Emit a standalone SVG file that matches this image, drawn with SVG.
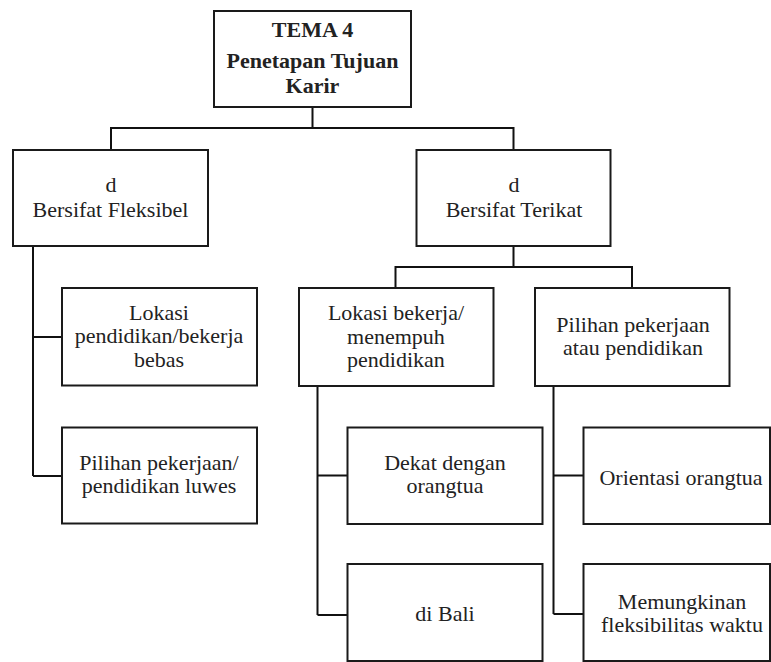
<svg xmlns="http://www.w3.org/2000/svg" width="771" height="662" viewBox="0 0 771 662" font-family="Liberation Serif, Times New Roman, DejaVu Serif, serif">
<style>
.box{fill:#ffffff;stroke:#1a1a1a;stroke-width:2}
.con{fill:none;stroke:#111111;stroke-width:2}
.t{font-size:22px;fill:#222222;text-anchor:middle}
.b{font-weight:bold}
</style>
<rect width="771" height="662" fill="#ffffff"/>
<g id="connectors">
<path class="con" d="M312.5,107 V128 M111,150 V128 H513.5 V150"/>
<path class="con" d="M33,246 V476 M33,337 H62 M33,476 H62"/>
<path class="con" d="M513.5,246 V267 M395.5,288 V267 H632 V288"/>
<path class="con" d="M317.5,386 V615 M317.5,475.5 H347.5 M317.5,615 H347.5"/>
<path class="con" d="M553.5,386 V614 M553.5,475.5 H583.5 M553.5,614 H583.5"/>
</g>
<g id="tema4" class="t">
<rect class="box" x="214" y="11" width="197" height="96"/>
<text class="b" x="312.5" y="37" font-family="Liberation Serif">TEMA 4</text>
<text class="b" x="312.5" y="68" font-family="Liberation Serif">Penetapan Tujuan</text>
<text class="b" x="312.5" y="93" font-family="Liberation Serif">Karir</text>
</g>
<g id="fleksibel" class="t">
<rect class="box" x="13" y="150" width="195" height="96"/>
<text x="111" y="192">d</text>
<text x="110.5" y="217">Bersifat Fleksibel</text>
</g>
<g id="terikat" class="t">
<rect class="box" x="416.5" y="150" width="194" height="96"/>
<text x="514" y="192">d</text>
<text x="514" y="217">Bersifat Terikat</text>
</g>
<g id="lokasi-bebas" class="t">
<rect class="box" x="62" y="288" width="195" height="97.5"/>
<text x="159" y="320">Lokasi</text>
<text x="159" y="343">pendidikan/bekerja</text>
<text x="159" y="366.5">bebas</text>
</g>
<g id="pilihan-luwes" class="t">
<rect class="box" x="62" y="427.5" width="195" height="96"/>
<text x="159" y="470">Pilihan pekerjaan/</text>
<text x="159" y="493">pendidikan luwes</text>
</g>
<g id="lokasi-bekerja" class="t">
<rect class="box" x="299" y="288" width="194.5" height="98"/>
<text x="396" y="320">Lokasi bekerja/</text>
<text x="396" y="343.5">menempuh</text>
<text x="396" y="367">pendidikan</text>
</g>
<g id="pilihan-atau" class="t">
<rect class="box" x="535" y="288" width="194.5" height="98"/>
<text x="633" y="331.5">Pilihan pekerjaan</text>
<text x="633" y="355">atau pendidikan</text>
</g>
<g id="dekat" class="t">
<rect class="box" x="347.5" y="427.5" width="195" height="96.5"/>
<text x="445" y="470">Dekat dengan</text>
<text x="445" y="493">orangtua</text>
</g>
<g id="bali" class="t">
<rect class="box" x="347.5" y="564" width="195" height="97"/>
<text x="445" y="621">di Bali</text>
</g>
<g id="orientasi" class="t">
<rect class="box" x="583.5" y="427.5" width="186.5" height="96.5"/>
<text x="681" y="485">Orientasi orangtua</text>
</g>
<g id="memungkinan" class="t">
<rect class="box" x="583.5" y="564" width="186.5" height="97"/>
<text x="682" y="609">Memungkinan</text>
<text x="682" y="632">fleksibilitas waktu</text>
</g>
</svg>
